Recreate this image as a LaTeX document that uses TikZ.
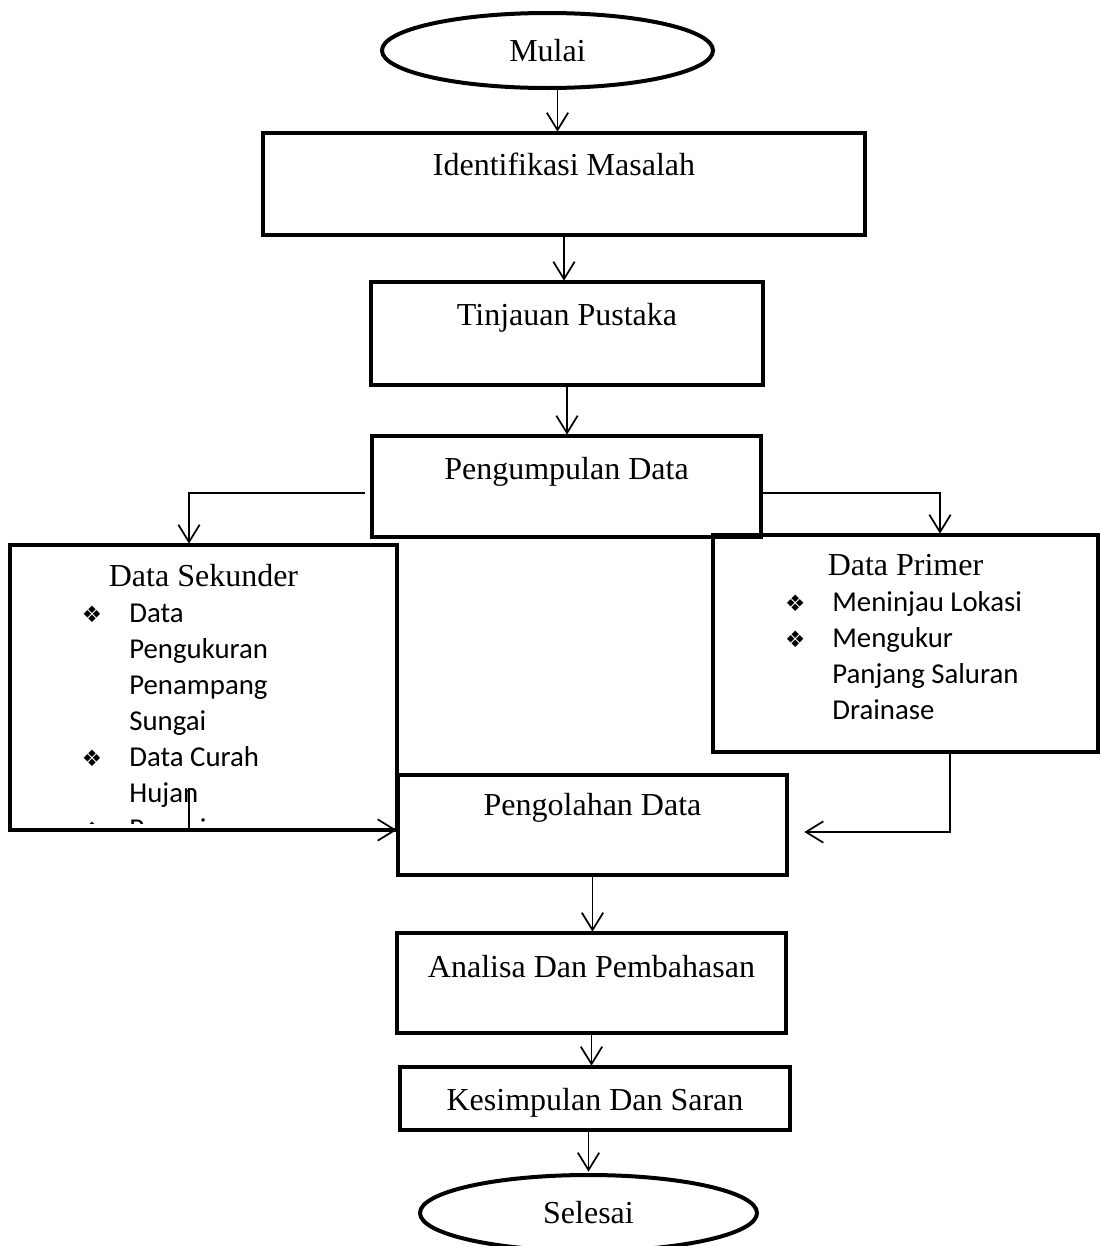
\documentclass[tikz,border=0pt]{standalone}
\usepackage{fontspec}
\setmainfont{Liberation Serif}
\newfontfamily\calibri{Carlito}
\newfontfamily\dingfont{DejaVu Sans}
\usepackage{tikz}
\usetikzlibrary{shapes.geometric}
\usetikzlibrary{arrows.meta}
\usetikzlibrary{calc}

\newcommand{\ditem}[1]{\makebox[89.5pt][l]{\hspace{54pt}{\dingfont\fontsize{17}{17}\selectfont ❖}}#1\par}
\newcommand{\dline}[1]{\hspace*{89.5pt}#1\par}

\tikzset{
  terminal/.style={draw, ellipse, line width=3pt, inner sep=0pt, font=\fontsize{24}{28}\selectfont},
  process/.style={draw, rectangle, line width=3pt, inner sep=0pt, outer sep=0pt, anchor=north west, font=\fontsize{24}{28}\selectfont},
  listbox/.style={rectangle, line width=3pt, inner sep=0pt, outer sep=0pt, anchor=north west},
  conn/.style={line width=1.3pt, shorten >=1pt, -{Straight Barb[length=13pt,width=16pt]}},
}

\begin{document}
\begin{tikzpicture}[x=0.75pt,y=0.75pt,yscale=-1,xscale=1]
\useasboundingbox (0,0) rectangle (1100,1246);

%Flowchart: Terminator
\node[terminal, minimum width=248.25pt, minimum height=56.25pt] (mulai) at (547.5,50.5) {Mulai};
%Flowchart: Process
\node[process, minimum width=451.5pt, text height=31.5pt, text depth=45pt] (ident) at (263,133) {Identifikasi Masalah};
%Flowchart: Process
\node[process, minimum width=294pt, text height=32.25pt, text depth=45pt] (tinjau) at (371,282) {Tinjauan Pustaka};
%Flowchart: Process
\node[process, minimum width=291.75pt, text height=32.25pt, text depth=43.5pt] (kumpul) at (372,436) {Pengumpulan Data};

%Shape: Rectangle (text cut off at the bottom)
\begin{scope}
\clip (6,541) rectangle (401,823);
\node[listbox, minimum width=290.25pt] (sek) at (10,545) {\parbox[t][213.75pt][t]{290.25pt}{%
  \centering\fontsize{24}{27}\selectfont\rule{0pt}{30.75pt}Data Sekunder\par
  \raggedright\calibri\fontsize{21.6}{27}\selectfont
  \ditem{Data}
  \dline{Pengukuran}
  \dline{Penampang}
  \dline{Sungai}
  \ditem{Data Curah}
  \dline{Hujan}
  \ditem{Pengairan}}};
\end{scope}
\draw[line width=3pt] (sek.north west) rectangle (sek.south east);

%Shape: Rectangle
\node[listbox, draw, minimum width=288.75pt] (prim) at (713,535) {\parbox[t][162.75pt][t]{288.75pt}{%
  \centering\fontsize{24}{27}\selectfont\rule{0pt}{30pt}Data Primer\par
  \raggedright\calibri\fontsize{21.6}{27}\selectfont
  \ditem{Meninjau Lokasi}
  \ditem{Mengukur}
  \dline{Panjang Saluran}
  \dline{Drainase}}};

%Flowchart: Process
\node[process, minimum width=291.75pt, text height=30pt, text depth=45pt] (olah) at (398,775) {Pengolahan Data};
%Flowchart: Process
\node[process, minimum width=291.75pt, text height=33pt, text depth=42pt] (analisa) at (397,933) {Analisa Dan Pembahasan};
%Flowchart: Process
\node[process, minimum width=292.5pt, text height=32.25pt, text depth=15pt] (simpul) at (400,1067) {Kesimpulan Dan Saran};
%Flowchart: Terminator
\node[terminal, minimum width=252.75pt, minimum height=57pt] (selesai) at (588.5,1213) {Selesai};

%Straight Lines
\draw[conn] ([xshift=7.5pt]mulai.south) -- ([xshift=7.5pt]mulai.south |- ident.north);
\draw[conn] (ident.south) -- (ident.south |- tinjau.north);
\draw[conn] (tinjau.south) -- (tinjau.south |- kumpul.north);
\draw[conn] ($(kumpul.west)+(-7,6.5)$) -| ($(sek.north)+(-14.5,0)$);
\draw[conn] ($(kumpul.east)+(0,6.5)$) -| ($(prim.north)+(34.5,0)$);
\draw[conn] ($(sek.south)+(-14.5,-42)$) |- (olah.west |- sek.south);
\draw[conn] ($(prim.south)+(44.5,0)$) |- ($(olah.east)+(16,7)$);
\draw[conn] (olah.south) -- (olah.south |- analisa.north);
\draw[conn] (analisa.south) -- (analisa.south |- simpul.north);
\draw[conn] (simpul.south -| selesai.north) -- (selesai.north);

\end{tikzpicture}
\end{document}
